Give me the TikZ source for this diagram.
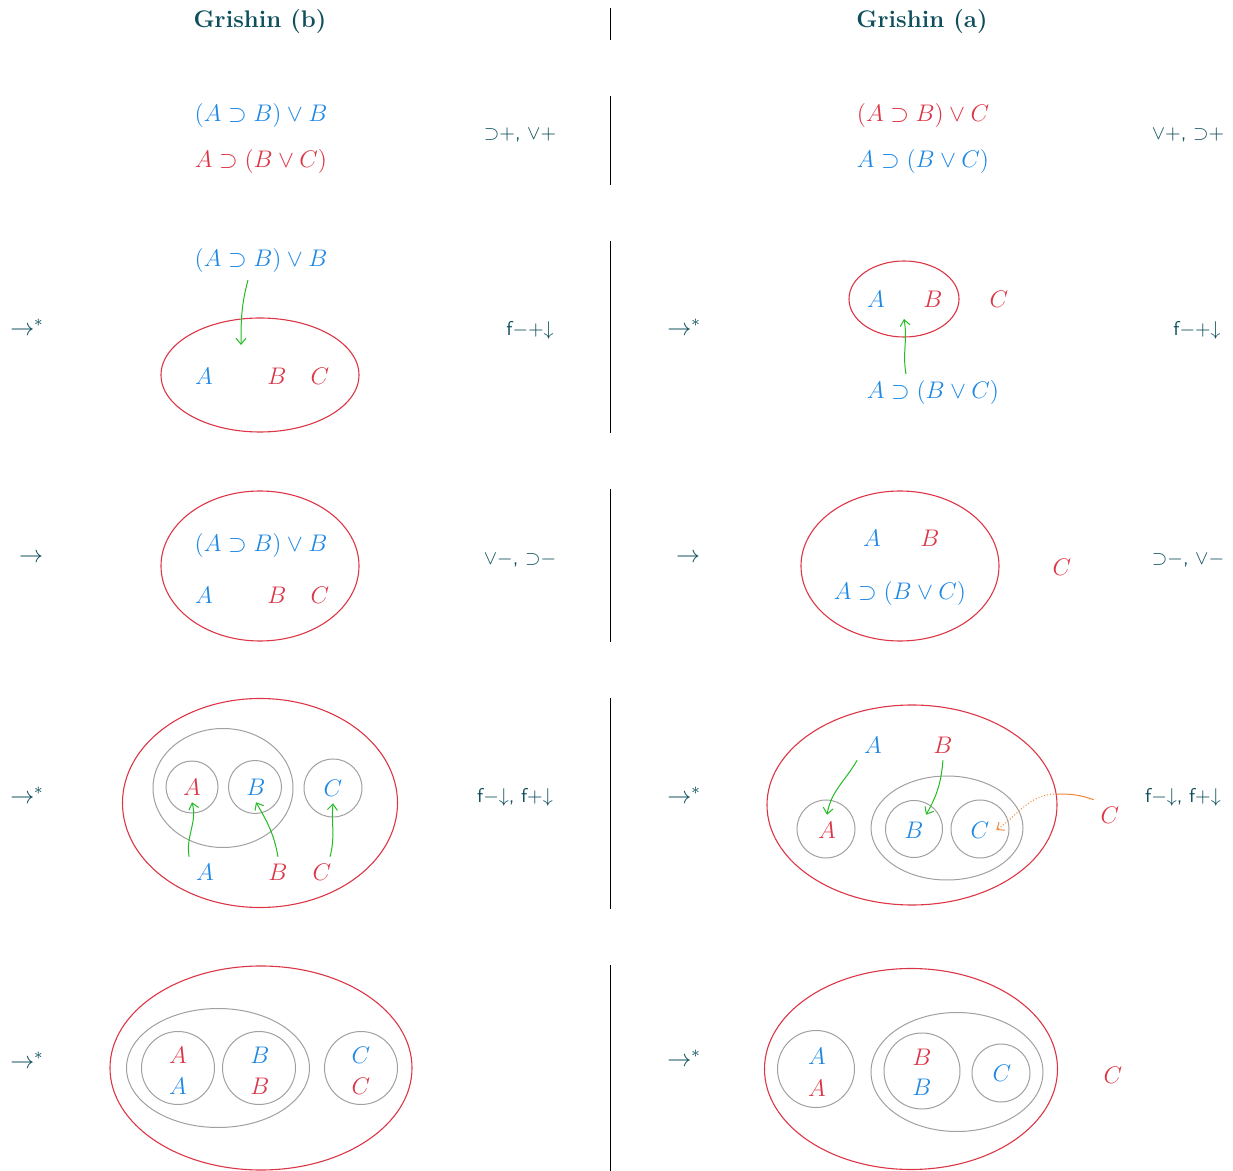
\documentclass[tikz,border=0pt]{standalone}
\usepackage{amsmath,amssymb}
\usepackage{tikz}
\usetikzlibrary{arrows.meta,shapes.geometric}

\definecolor{cblue}{HTML}{1E88E5}
\definecolor{cred}{HTML}{DC3545}
\definecolor{cgreen}{HTML}{22BB22}
\definecolor{corange}{HTML}{F0883A}
\definecolor{cgray}{HTML}{A0A0A0}
\definecolor{cteal}{HTML}{0E4F5C}

\begin{document}
\begin{tikzpicture}[x=0.5pt,y=0.5pt,
    blu/.style={text=cblue,font=\large},
    rd/.style={text=cred,font=\large},
    rulelbl/.style={text=cteal,font=\sffamily},
    stepsym/.style={text=cteal,font=\large},
    bigset/.style={draw=cred,line width=0.55pt,ellipse,inner sep=0pt},
    groupell/.style={draw=cgray,line width=0.5pt,ellipse,inner sep=0pt},
    subcell/.style={draw=cgray,line width=0.5pt,circle,inner sep=0pt},
    feed/.style={cgreen,line width=0.5pt,-{Straight Barb[length=3pt,width=5pt]}}]
    \useasboundingbox (0,0) rectangle (1233,-1171);

    % Titles and divider
    \node[text=cteal,font=\large\bfseries] (tb) at (260,-22) {Grishin (b)};
    \node[text=cteal,font=\large\bfseries] (ta) at (922,-22) {Grishin (a)};
    \foreach \a/\b in {8/40, 96/185, 241/433, 489/642, 698/909, 965/1171} {
        \draw (610,-\a) -- (610,-\b);
    }

    % Row 1
    \node[blu] (f1l) at (261,-116) {$(A\supset B)\vee B$};
    \node[rd] (g1l) at (261,-162) {$A\supset(B\vee C)$};
    \node[rulelbl] (r1l) at (520,-135) {${\supset}$+, ${\vee}$+};
    \node[rd] (f1r) at (923,-116) {$(A\supset B)\vee C$};
    \node[blu] (g1r) at (923,-162) {$A\supset(B\vee C)$};
    \node[rulelbl] (r1r) at (1188,-135) {${\vee}$+, ${\supset}$+};

    % Row 2
    \node[stepsym] (s2l) at (27,-327) {$\rightarrow^{*}$};
    \node[blu] (f2l) at (261,-261) {$(A\supset B)\vee B$};
    \node[bigset, minimum width=99pt, minimum height=57pt] (o2l) at (260,-375) {};
    \node[blu] (a2l) at (204,-376) {$A$};
    \node[rd] (b2l) at (277,-376) {$B$};
    \node[rd] (c2l) at (320,-376) {$C$};
    \coordinate (d2l) at (241,-345);
    \draw[feed] ([xshift=-6.5pt]f2l.south) to[out=-105,in=90] (d2l);
    \node[rulelbl] (r2l) at (530,-330) {f${-}$+${\downarrow}$};

    \node[stepsym] (s2r) at (684,-327) {$\rightarrow^{*}$};
    \node[bigset, minimum width=55pt, minimum height=38pt] (o2r) at (904,-299) {};
    \node[blu] (a2r) at (876,-299) {$A$};
    \node[rd] (b2r) at (933,-299) {$B$};
    \node[rd] (c2r) at (999,-299) {$C$};
    \node[blu] (g2r) at (933,-393) {$A\supset(B\vee C)$};
    \coordinate (d2r) at (904,-319);
    \draw[feed] ([xshift=-13.5pt]g2r.north) to[out=100,in=-80] (d2r);
    \node[rulelbl] (r2r) at (1197,-330) {f${-}$+${\downarrow}$};

    % Row 3
    \node[stepsym] (s3l) at (31,-558) {$\rightarrow$};
    \node[bigset, minimum width=99pt, minimum height=75pt] (o3l) at (260,-566) {};
    \node[blu] (f3l) at (261,-546) {$(A\supset B)\vee B$};
    \node[blu] (a3l) at (204,-595) {$A$};
    \node[rd] (b3l) at (277,-595) {$B$};
    \node[rd] (c3l) at (320,-595) {$C$};
    \node[rulelbl] (r3l) at (520,-560) {${\vee}{-}$, ${\supset}{-}$};

    \node[stepsym] (s3r) at (688,-558) {$\rightarrow$};
    \node[bigset, minimum width=99pt, minimum height=75pt] (o3r) at (900,-566) {};
    \node[blu] (a3r) at (872,-538) {$A$};
    \node[rd] (b3r) at (930,-538) {$B$};
    \node[blu] (g3r) at (900,-594) {$A\supset(B\vee C)$};
    \node[rd] (c3r) at (1062,-567) {$C$};
    \node[rulelbl] (r3r) at (1188,-560) {${\supset}{-}$, ${\vee}{-}$};

    % Row 4
    \node[stepsym] (s4l) at (27,-795) {$\rightarrow^{*}$};
    \node[bigset, minimum width=137.5pt, minimum height=104.5pt] (o4l) at (260,-803) {};
    \node[groupell, minimum width=70pt, minimum height=59.5pt] (e4l) at (223,-788) {};
    \node[subcell, minimum size=26pt] (ka4l) at (192,-787) {};
    \node[subcell, minimum size=26.5pt] (kb4l) at (255,-787) {};
    \node[subcell, minimum size=29pt] (kc4l) at (333,-788) {};
    \node[rd] (ia4l) at (192,-787) {$A$};
    \node[blu] (ib4l) at (256,-787) {$B$};
    \node[blu] (ic4l) at (333,-788) {$C$};
    \node[blu] (la4l) at (205,-872) {$A$};
    \node[rd] (lb4l) at (278,-872) {$B$};
    \node[rd] (lc4l) at (322,-872) {$C$};
    \draw[feed] (la4l.north west) to[out=100,in=-75] (ia4l.south);
    \draw[feed] (lb4l.north) to[out=100,in=-60] (ib4l.south);
    \draw[feed] ([xshift=4pt]lc4l.north) to[out=75,in=-95] (ic4l.south);
    \node[rulelbl] (r4l) at (515,-797) {f${-}{\downarrow}$, f${+}{\downarrow}$};

    \node[stepsym] (s4r) at (684,-795) {$\rightarrow^{*}$};
    \node[bigset, minimum width=145pt, minimum height=100pt] (o4r) at (912,-805) {};
    \node[groupell, minimum width=76pt, minimum height=52pt] (e4r) at (947,-828) {};
    \node[subcell, minimum size=29pt] (ka4r) at (826,-829) {};
    \node[subcell, minimum size=28.5pt] (kb4r) at (914,-829) {};
    \node[subcell, minimum size=29pt] (kc4r) at (980,-829) {};
    \node[rd] (ia4r) at (827,-830) {$A$};
    \node[blu] (ib4r) at (914,-830) {$B$};
    \node[blu] (ic4r) at (980,-830) {$C$};
    \node[blu] (la4r) at (873,-745) {$A$};
    \node[rd] (lb4r) at (943,-745) {$B$};
    \node[rd] (lc4r) at (1110,-815) {$C$};
    \draw[feed] (la4r.south west) to[out=-120,in=80] (ia4r.north);
    \draw[feed] (lb4r.south) to[out=-95,in=60] ([xshift=6pt]ib4r.north);
    \coordinate (x4r) at (1057,-794);
    \draw[corange, line width=0.5pt] (lc4r.north west) to[out=160,in=0] (x4r);
    \draw[corange, line width=0.5pt, densely dotted, -{Straight Barb[length=3pt,width=5pt]}] (x4r) to[out=180,in=35] (ic4r.east);
    \node[rulelbl] (r4r) at (1183,-797) {f${-}{\downarrow}$, f${+}{\downarrow}$};

    % Row 5
    \node[stepsym] (s5l) at (27,-1060) {$\rightarrow^{*}$};
    \node[bigset, minimum width=151pt, minimum height=102pt] (o5l) at (261,-1068) {};
    \node[groupell, minimum width=91.5pt, minimum height=59.5pt] (e5l) at (218,-1068) {};
    \foreach \n/\x in {a/178, b/259, c/361} {
        \node[subcell, minimum size=36.5pt] (k\n5l) at (\x,-1068) {};
    }
    \node[rd] (ta5l) at (178,-1055) {$A$};
    \node[blu] (ua5l) at (178,-1086) {$A$};
    \node[blu] (tb5l) at (260,-1055) {$B$};
    \node[rd] (ub5l) at (260,-1086) {$B$};
    \node[blu] (tc5l) at (361,-1055) {$C$};
    \node[rd] (uc5l) at (361,-1086) {$C$};

    \node[stepsym] (s5r) at (684,-1058) {$\rightarrow^{*}$};
    \node[bigset, minimum width=146.5pt, minimum height=100.5pt] (o5r) at (911,-1069) {};
    \node[subcell, minimum size=38.5pt] (ka5r) at (816,-1069) {};
    \node[groupell, minimum width=86pt, minimum height=59.5pt] (e5r) at (957,-1072) {};
    \node[subcell, minimum size=38pt] (kb5r) at (922,-1071) {};
    \node[subcell, minimum size=29pt] (kc5r) at (1001,-1073) {};
    \node[blu] (ta5r) at (817,-1056) {$A$};
    \node[rd] (ua5r) at (817,-1088) {$A$};
    \node[rd] (tb5r) at (922,-1057) {$B$};
    \node[blu] (ub5r) at (922,-1087) {$B$};
    \node[blu] (tc5r) at (1002,-1073) {$C$};
    \node[rd] (lc5r) at (1113,-1075) {$C$};
\end{tikzpicture}
\end{document}
